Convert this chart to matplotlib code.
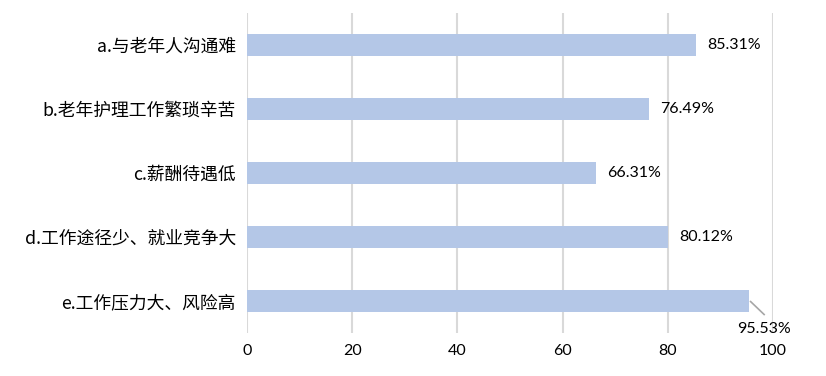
import matplotlib.pyplot as plt

# Data
categories = ['a.与老年人沟通难', 'b.老年护理工作繁琐辛苦', 'c.薪酬待遇低',
              'd.工作途径少、就业竞争大', 'e.工作压力大、风险高']
values = [85.31, 76.49, 66.31, 80.12, 95.53]
x_ticks = [0, 20, 40, 60, 80, 100]

bar_color = '#B4C7E7'
grid_color = '#D9D9D9'
cjk = ['Noto Sans CJK SC', 'DejaVu Sans']
num_font = ['Lato', 'DejaVu Sans']

fig = plt.figure(figsize=(8.26, 3.76), dpi=100)
ax = fig.add_axes([247 / 826, 1 - 333 / 376, (773 - 247) / 826, 320 / 376])

pos = list(range(len(categories)))
ax.barh(pos, values, height=0.34, color=bar_color, zorder=3)

ax.set_xlim(0, 100)
ax.set_ylim(len(categories) - 0.5, -0.5)
ax.set_xticks(x_ticks)
ax.set_xticklabels([str(t) for t in x_ticks], family=num_font, fontsize=11.5)
ax.set_yticks(pos)
ax.set_yticklabels(categories, family=cjk, fontsize=12.8)
ax.tick_params(axis='both', length=0)
ax.tick_params(axis='y', pad=8)
ax.tick_params(axis='x', pad=8)

ax.grid(axis='x', color=grid_color, linewidth=1.5, zorder=0)
for s in ax.spines.values():
    s.set_visible(False)

for i, v in enumerate(values):
    label = f'{v:.2f}%'
    if v > 90:
        # label pushed below the bar with a short leader line
        ax.plot([v + 0.1, v + 2.9], [i, i + 0.22], color='#A6A6A6',
                lw=1.2, zorder=4, solid_capstyle='butt')
        ax.text(v + 2.8, i + 0.43, label, ha='center', va='center',
                family=num_font, fontsize=11.5)
    else:
        ax.text(v + 2.1, i, label, ha='left', va='center',
                family=num_font, fontsize=11.5)

fig.savefig('out.png', dpi=100)
